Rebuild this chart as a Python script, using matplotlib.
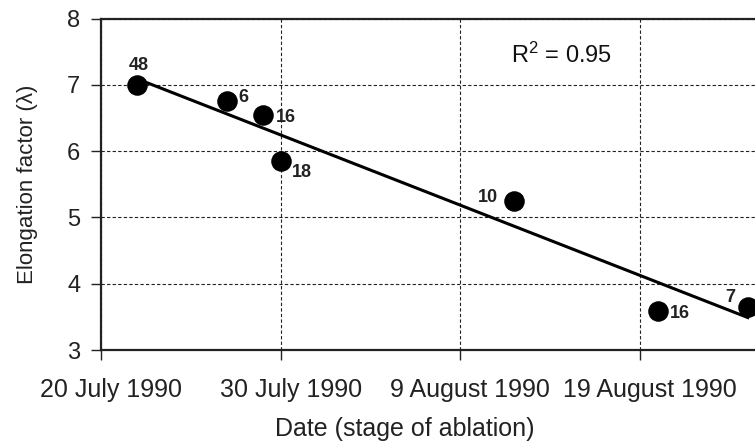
import datetime as dt
import numpy as np
import matplotlib
matplotlib.use("Agg")
import matplotlib.pyplot as plt
import matplotlib.dates as mdates
import matplotlib.transforms as mtransforms

plt.rcParams['font.family'] = ['Liberation Sans', 'DejaVu Sans']
plt.rcParams['mathtext.fontset'] = 'custom'
plt.rcParams['mathtext.rm'] = 'Liberation Sans'
plt.rcParams['mathtext.it'] = 'Liberation Sans'

# Data
dates = ["1990-07-22", "1990-07-27", "1990-07-29", "1990-07-30",
         "1990-08-12", "1990-08-20", "1990-08-25"]
elongation = [7.00, 6.75, 6.54, 5.85, 5.24, 3.59, 3.65]
counts = ["48", "6", "16", "18", "10", "16", "7"]
r2_text = r"R$^{2}$ = 0.95"
xtick_dates = ["1990-07-20", "1990-07-30", "1990-08-09", "1990-08-19"]
xtick_labels = ["20 July 1990", "30 July 1990", "9 August 1990", "19 August 1990"]

# label offsets in points (style)
offsets = [(1, 14), (12, 3), (17, -1.5), (15, -8), (-19, 3), (16, -2), (-13, 7)]

x = mdates.date2num([dt.datetime.fromisoformat(d) for d in dates])
y = np.array(elongation)

fig = plt.figure(figsize=(7.55, 4.44), dpi=100)
ax = fig.add_axes([101/755, 94/444, 685/755, 331.5/444])

ax.set_xlim(mdates.date2num(dt.datetime(1990, 7, 20)), mdates.date2num(dt.datetime(1990, 8, 27, 3)))
ax.set_ylim(3, 8)

ax.grid(True, color="#222222", linestyle=(0, (3, 2)), linewidth=0.8)
ax.set_axisbelow(True)

# regression line
coef = np.polyfit(x, y, 1)
xl = np.array([x[0], x[-1]])
ax.plot(xl, np.polyval(coef, xl), color="black", linewidth=2.2, zorder=2)

ax.scatter(x, y, s=190, color="black", zorder=3, clip_on=False)

for xi, yi, c, off in zip(x, y, counts, offsets):
    ax.annotate(c, (xi, yi), xytext=off, textcoords="offset points",
                ha="center", va="center", fontsize=13, fontweight="bold", color="#222222")

ax.text(mdates.date2num(dt.datetime(1990, 8, 11, 19)), 7.45, r2_text,
        fontsize=17, ha="left", va="center", color="#111111")

ax.set_xticks(mdates.date2num([dt.datetime.fromisoformat(d) for d in xtick_dates]))
ax.set_xticklabels(xtick_labels)
ax.set_yticks([3, 4, 5, 6, 7, 8])
ax.tick_params(axis="both", direction="out", length=7, width=1, colors="#222222")
ax.tick_params(axis="x", labelsize=18, pad=13)
ax.tick_params(axis="y", labelsize=17, pad=8)

shift = mtransforms.ScaledTranslation(10/100, 0, fig.dpi_scale_trans)
for lab in ax.get_xticklabels():
    lab.set_transform(lab.get_transform() + shift)

for s in ax.spines.values():
    s.set_linewidth(1.6)
    s.set_color("#222222")

ax.set_xlabel("Date (stage of ablation)", fontsize=18, labelpad=11, color="#222222")
ax.xaxis.set_label_coords((405 - 101) / 685, -0.203)
ax.set_ylabel("Elongation factor (λ)", fontsize=16, labelpad=21, color="#222222")

fig.savefig("out.png", dpi=100)
